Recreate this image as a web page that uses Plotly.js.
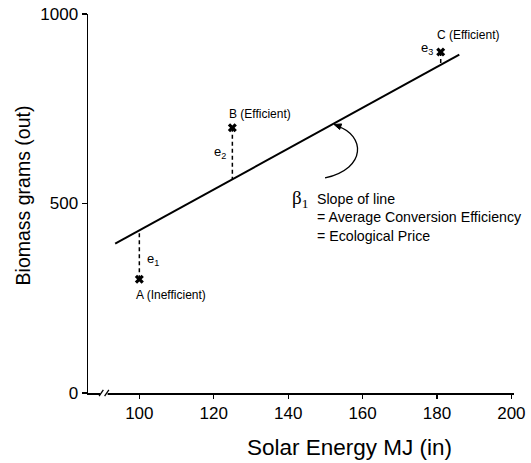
<!DOCTYPE html>
<html><head><meta charset="utf-8">
<script src="https://cdn.plot.ly/plotly-3.0.1.min.js"></script>
<style>html,body{margin:0;padding:0;background:#fff}#chart{width:531px;height:463px}</style>
</head><body><div id="chart"></div>
<script>
// ---- data ----
const pointLabels = ['A (Inefficient)', 'B (Efficient)', 'C (Efficient)'];
const residualLabels = ['e<sub>1</sub>', 'e<sub>2</sub>', 'e<sub>3</sub>'];
const solarEnergy = [100, 125, 181];       // MJ (in)
const biomass = [300, 700, 900];           // grams (out)
const fittedAtPoints = [429, 564, 868];    // regression line value at each point
const fitX = [93.5, 186];                  // regression line extent
const fitY = [394, 893];
const xTickVals = [100, 120, 140, 160, 180, 200];
const yTickVals = [0, 500, 1000];
const xTitle = 'Solar Energy MJ (in)';
const yTitle = 'Biomass grams (out)';

const FONT = 'Liberation Sans, Arial, Helvetica, sans-serif';

// residual segments
const resX = [], resY = [];
solarEnergy.forEach((x, i) => { resX.push(x, x, null); resY.push(biomass[i], fittedAtPoints[i], null); });

const traces = [
  { x: fitX, y: fitY, mode: 'lines', line: { color: '#000', width: 2 }, hoverinfo: 'skip' },
  { x: resX, y: resY, mode: 'lines', line: { color: '#000', width: 1.5, dash: '4px,3px' }, hoverinfo: 'skip' },
  { x: solarEnergy, y: biomass, mode: 'markers',
    marker: { symbol: 'x', size: 8, color: '#000', line: { width: 0 } }, hoverinfo: 'skip' }
];

// label offsets (pixels) relative to each point
const labelShift = [[-5, -16], [-5, 14], [-6, 17]];
const resShift = [[6, 'left', 20], [-4, 'right', -25], [-6, 'right', 3]];

const annotations = [];
solarEnergy.forEach((x, i) => {
  annotations.push({ x: x, y: biomass[i], xref: 'x', yref: 'y', text: pointLabels[i], showarrow: false,
    xanchor: 'left', yanchor: 'middle', xshift: labelShift[i][0], yshift: labelShift[i][1],
    font: { family: FONT, size: 12, color: '#000' } });
  annotations.push({ x: x, y: biomass[i], xref: 'x', yref: 'y', text: residualLabels[i], showarrow: false,
    xanchor: resShift[i][1], yanchor: 'middle', xshift: resShift[i][0], yshift: resShift[i][2],
    font: { family: FONT, size: 13, color: '#000' } });
});
annotations.push({ x: 140.4, y: 512, xref: 'x', yref: 'y', text: 'β<sub>1</sub>', showarrow: false,
  xanchor: 'left', yanchor: 'middle', font: { family: 'Liberation Serif, Times New Roman, serif', size: 19, color: '#000' } });
annotations.push({ x: 147.2, y: 537, xref: 'x', yref: 'y', align: 'left',
  text: 'Slope of line<br>= Average Conversion Efficiency<br>= Ecological Price', showarrow: false,
  xanchor: 'left', yanchor: 'top', font: { family: FONT, size: 14.2, color: '#000' } });
// axis titles
annotations.push({ x: 0.613, y: -0.1425, xref: 'paper', yref: 'paper', text: xTitle, showarrow: false,
  xanchor: 'center', yanchor: 'middle', font: { family: FONT, size: 22.5, color: '#000' } });
annotations.push({ x: -0.152, y: 0.522, xref: 'paper', yref: 'paper', text: yTitle, showarrow: false,
  textangle: -90, xanchor: 'center', yanchor: 'middle', font: { family: FONT, size: 19.5, color: '#000' } });

const shapes = [
  // curved arrow pointing at the line
  { type: 'path', xref: 'x', yref: 'y', layer: 'above',
    path: 'M 149.91 567.3 C 161.47 593.7 160.40 680.7 153.4 703.5',
    line: { color: '#000', width: 1.3 } },
  { type: 'path', xref: 'x', yref: 'y', layer: 'above',
    path: 'M 152.33 708.4 L 154.37 710.0 L 153.86 695.3 Z',
    fillcolor: '#000', line: { color: '#000', width: 1 } },
  // axis break
  { type: 'rect', xref: 'paper', yref: 'paper', layer: 'above', x0: 0.029, x1: 0.046, y0: -0.01, y1: 0.01,
    fillcolor: '#fff', line: { width: 0 } },
  { type: 'line', xref: 'paper', yref: 'paper', layer: 'above', x0: 0.026, x1: 0.036, y0: -0.008, y1: 0.008,
    line: { color: '#000', width: 1.3 } },
  { type: 'line', xref: 'paper', yref: 'paper', layer: 'above', x0: 0.039, x1: 0.049, y0: -0.008, y1: 0.008,
    line: { color: '#000', width: 1.3 } }
];

const layout = {
  width: 531, height: 463,
  margin: { l: 88, r: 17, t: 14, b: 70 },
  paper_bgcolor: '#fff', plot_bgcolor: '#fff',
  showlegend: false,
  font: { family: FONT, color: '#000' },
  xaxis: {
    range: [86.2, 200.7], tickvals: xTickVals, ticktext: xTickVals.map(String),
    showgrid: false, zeroline: false, showline: true, linecolor: '#000', linewidth: 1.5,
    ticks: 'outside', ticklen: 4, tickwidth: 1.3, tickcolor: '#000',
    tickfont: { family: FONT, size: 17, color: '#000' },
    automargin: false, fixedrange: true
  },
  yaxis: {
    range: [0, 1000], tickvals: yTickVals, ticktext: yTickVals.map(String),
    showgrid: false, zeroline: false, showline: true, linecolor: '#000', linewidth: 1.5,
    ticks: 'outside', ticklen: 5, tickwidth: 1.3, tickcolor: '#000',
    tickfont: { family: FONT, size: 17, color: '#000' },
    automargin: false, fixedrange: true
  },
  annotations: annotations,
  shapes: shapes
};

Plotly.newPlot('chart', traces, layout, { staticPlot: true, displayModeBar: false });
</script>
</body></html>
